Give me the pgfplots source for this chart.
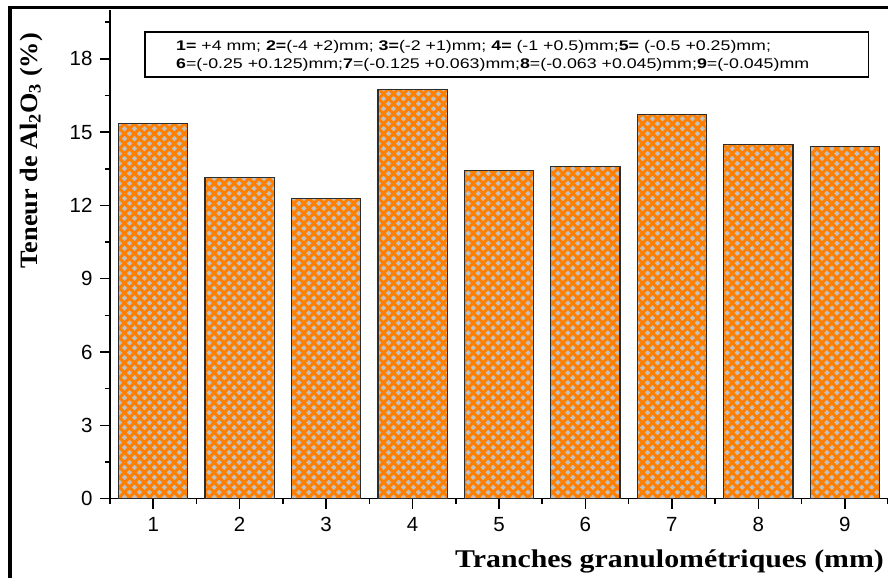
\documentclass[border=0pt]{standalone}
\usepackage{pgfplots}
\pgfplotsset{compat=1.18}
\usepackage{fontspec}
\setmainfont{Liberation Serif}
\setsansfont{Liberation Sans}
\usepackage{graphicx}
\usetikzlibrary{patterns}
\definecolor{barorange}{RGB}{255,128,0}
\definecolor{bargray}{RGB}{192,192,192}
\definecolor{baredge}{RGB}{45,45,45}
\pgfdeclarepatternformonly{diamondhatch}{\pgfqpoint{-3pt}{-3pt}}{\pgfqpoint{13pt}{13pt}}{\pgfqpoint{10pt}{10pt}}{%
  \pgfsetlinewidth{3.0pt}%
  \pgfsetrectcap
  \pgfpathmoveto{\pgfqpoint{0pt}{0pt}}\pgfpathlineto{\pgfqpoint{10pt}{10pt}}%
  \pgfpathmoveto{\pgfqpoint{0pt}{10pt}}\pgfpathlineto{\pgfqpoint{10pt}{0pt}}%
  \pgfusepath{stroke}%
}
\pgfplotstableread{
x y
1 15.36
2 13.16
3 12.28
4 16.73
5 13.43
6 13.59
7 15.72
8 14.48
9 14.41
}\datatable
\newcommand{\legfont}{\fontsize{14bp}{16bp}\selectfont\sffamily}
\begin{document}
\begin{tikzpicture}
\begin{axis}[
  name=ax,
  scale only axis,
  width=778bp, height=488.6bp,
  xmin=0.5, xmax=9.5, ymin=0, ymax=20,
  axis x line*=bottom, axis y line*=left,
  axis line style={line width=1.6bp, -},
  xtick={1,...,9}, minor xtick={0.5,1.5,...,9.5},
  ytick={0,3,...,18}, minor ytick={1.5,4.5,...,19.5},
  tick align=outside,
  major tick length=10bp, minor tick length=5bp,
  tick style={black, line width=1.5bp},
  ticklabel style={font=\fontsize{20.5bp}{24bp}\selectfont\sffamily},
  xticklabel style={yshift=-5bp},
  yticklabel style={xshift=-4bp},
  /pgf/number format/assume math mode=true,
  xlabel={\scalebox{1.17}[1]{\fontsize{25.5bp}{30bp}\selectfont\bfseries Tranches granulométriques (mm)}},
  ylabel={\scalebox{1.05}[1]{\fontsize{25bp}{30bp}\selectfont\bfseries Teneur de Al\textsubscript{2}O\textsubscript{3} (\%)}},
  xlabel style={at={(axis description cs:0.4434,-0.142)}, anchor=base west, inner sep=0pt},
  ylabel style={at={(axis description cs:-0.0938,0.712)}, anchor=base, inner sep=0pt},
  ybar, bar width=0.8, bar shift=0pt,
  clip=false,
]
\addplot[draw=none, fill=bargray] table[x=x,y=y] {\datatable};
\addplot[draw=baredge, line width=1.2bp, pattern=diamondhatch, pattern color=barorange] table[x=x,y=y] {\datatable};
\draw[line width=1.2bp, fill=white] (axis description cs:0.045,0.955) rectangle (axis description cs:0.975,0.8627);
\node[anchor=base west, inner sep=0pt] at (axis description cs:0.0848,0.918)
  {\scalebox{1.27}[1]{\legfont\textbf{1=} +4 mm; \textbf{2=}(-4 +2)mm; \textbf{3=}(-2 +1)mm; \textbf{4=} (-1 +0.5)mm;\textbf{5=} (-0.5 +0.25)mm;}};
\node[anchor=base west, inner sep=0pt] at (axis description cs:0.0848,0.8807)
  {\scalebox{1.27}[1]{\legfont\textbf{6}=(-0.25 +0.125)mm;\textbf{7}=(-0.125 +0.063)mm;\textbf{8}=(-0.063 +0.045)mm;\textbf{9}=(-0.045)mm}};
\end{axis}
\pgfresetboundingbox
\path[use as bounding box] ([shift={(-110bp,-78.4bp)}]ax.south west) rectangle ([shift={(0bp,10bp)}]ax.north east);
\draw[line width=3.5bp] ([shift={(-100bp,-90bp)}]ax.south west) -- ([shift={(-100bp,2.5bp)}]ax.north west) -- ([shift={(10bp,2.5bp)}]ax.north east);
\end{tikzpicture}
\end{document}
